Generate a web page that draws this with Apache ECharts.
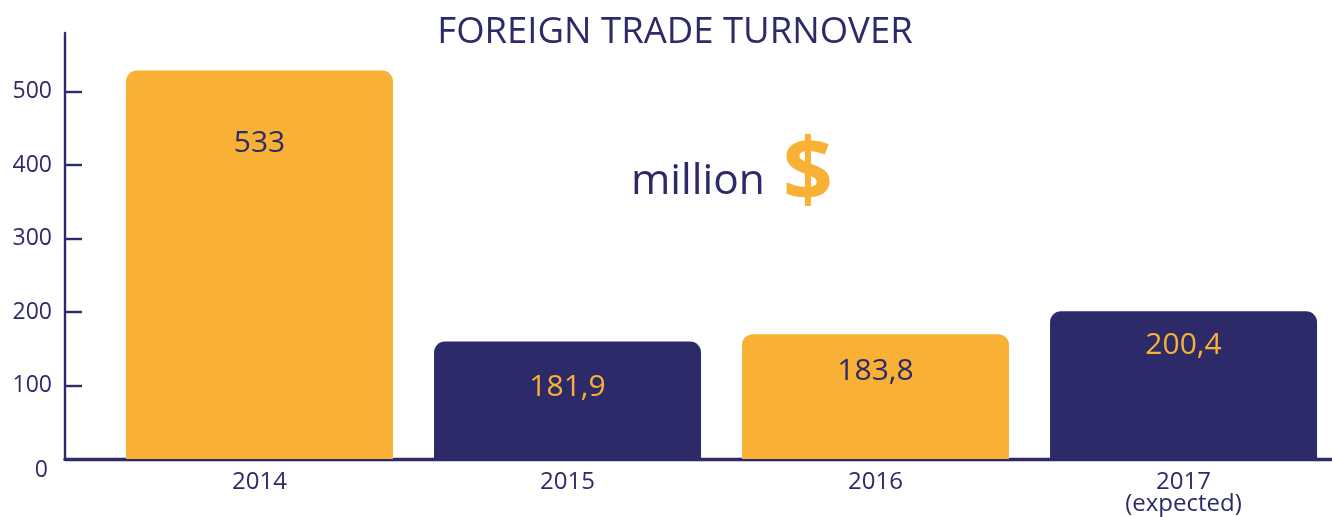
<!DOCTYPE html>
<html>
<head>
<meta charset="utf-8">
<script src="https://cdn.jsdelivr.net/npm/echarts@6/dist/echarts.min.js"></script>
<style>
  html, body { margin: 0; padding: 0; background: #fff; }
  #chart { width: 1332px; height: 517px; }
</style>
</head>
<body>
<div id="chart"></div>
<script>
// values as drawn in the picture (bar heights) and the texts printed on them
const years = ["2014", "2015", "2016", "2017\n(expected)"];
const barHeights = [529, 160, 170, 201];
const valueLabels = ["533", "181,9", "183,8", "200,4"];
const yTicks = [0, 100, 200, 300, 400, 500];

const NAVY = "#2d2a69";
const ORANGE = "#f8b134";
const FONT = "Open Sans";

const chart = echarts.init(document.getElementById("chart"));

// label centre, px below the bar top
const labelDy = [73, 46, 37, 34];

const option = {
  animation: false,
  textStyle: { fontFamily: FONT },
  graphic: [
    {
      type: "text",
      x: 675,
      y: 33,
      style: {
        text: "FOREIGN TRADE TURNOVER",
        fill: NAVY,
        font: `36.5px "${FONT}"`,
        textAlign: "center",
        textVerticalAlign: "middle",
      },
    },
    {
      type: "text",
      x: 631,
      y: 182,
      style: {
        text: "million",
        fill: NAVY,
        font: `42.5px "${FONT}"`,
        textAlign: "left",
        textVerticalAlign: "middle",
      },
    },
    {
      type: "text",
      x: 808,
      y: 176,
      style: {
        text: "$",
        fill: ORANGE,
        font: `bold 88px "${FONT}"`,
        textAlign: "center",
        textVerticalAlign: "middle",
      },
    },
  ],
  grid: {
    left: 65,
    right: 0,
    top: 33,
    bottom: 58,
    containLabel: false,
  },
  xAxis: {
    type: "value",
    min: -0.6315,
    max: 3.482,
    axisLine: { onZero: false, lineStyle: { color: NAVY, width: 3.4 } },
    axisTick: { show: false },
    splitLine: { show: false },
    axisLabel: {
      customValues: years.map((_, i) => i),
      formatter: (v) => years[Math.round(v)] || "",
      color: NAVY,
      fontSize: 24,
      lineHeight: 22,
      margin: 12,
      fontFamily: FONT,
    },
  },
  yAxis: {
    type: "value",
    min: 0,
    max: 580,
    axisLine: { show: true, onZero: false, lineStyle: { color: NAVY, width: 2.4 } },
    axisTick: {
      show: true,
      inside: true,
      length: 17,
      customValues: yTicks.slice(1),
      lineStyle: { color: NAVY, width: 2.4 },
    },
    splitLine: { show: false },
    axisLabel: {
      customValues: yTicks,
      color: NAVY,
      fontSize: 23,
      margin: 13,
      fontFamily: FONT,
      formatter: (v) => (v === 0 ? "{z|0}" : String(v)),
      rich: {
        z: {
          color: NAVY,
          fontSize: 23,
          fontFamily: FONT,
          padding: [22, 4, 0, 0],
        },
      },
    },
  },
  series: [
    {
      type: "bar",
      barWidth: 267,
      data: barHeights.map((h, i) => ({
        value: [i, h],
        itemStyle: { color: i % 2 ? NAVY : ORANGE },
        label: {
          position: ["50%", labelDy[i]],
          color: i % 2 ? ORANGE : NAVY,
        },
      })),
      itemStyle: { borderRadius: [11, 11, 0, 0] },
      label: {
        show: true,
        align: "center",
        verticalAlign: "middle",
        fontSize: 30,
        fontFamily: FONT,
        formatter: (p) => valueLabels[p.dataIndex],
      },
    },
  ],
};

chart.setOption(option);
</script>
</body>
</html>
